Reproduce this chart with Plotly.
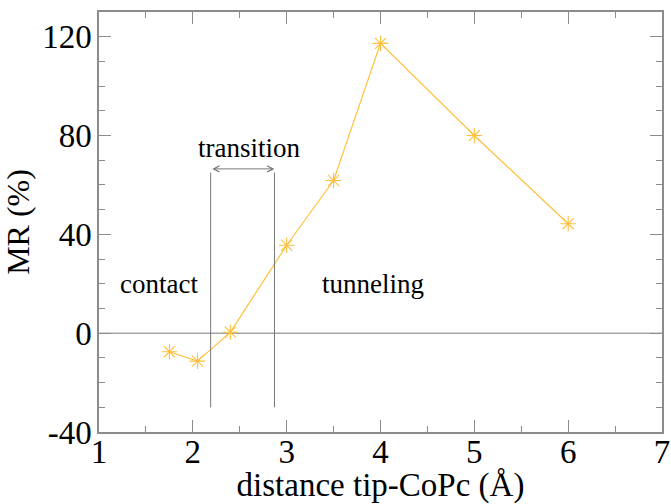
import plotly.graph_objects as go

# tip–CoPc distance (Å) and magnetoresistance (%)
distance = [1.75, 2.05, 2.4, 3.0, 3.5, 4.0, 5.0, 6.0]
mr = [-7.5, -11.3, 0.4, 35.6, 61.8, 117.3, 80.0, 44.3]

# regime boundaries (Å) and labels
boundaries = [2.19, 2.87]
boundary_span = [-30, 65]
regime_labels = ["contact", "transition", "tunneling"]
regime_x = [1.64, 2.6, 3.92]
regime_y = [20.0, 75.0, 20.0]
arrow_y = 66.5

x_ticks = [1, 2, 3, 4, 5, 6, 7]
y_ticks = [-40, 0, 40, 80, 120]

serif = "Liberation Serif"
orange = "#FFC03F"
axis_grey = "#8C8C8C"

fig = go.Figure()

fig.add_trace(go.Scatter(
    x=distance, y=mr, mode="lines+markers",
    line=dict(color=orange, width=1.2),
    marker=dict(symbol="asterisk-open", size=13, color=orange,
                line=dict(color=orange, width=1.1)),
    showlegend=False,
))

# zero reference line
fig.add_shape(type="line", xref="x", yref="y", x0=1, x1=7, y0=0, y1=0,
              line=dict(color="#777777", width=1), layer="below")

# regime boundaries
for b in boundaries:
    fig.add_shape(type="line", xref="x", yref="y", x0=b, x1=b,
                  y0=boundary_span[0], y1=boundary_span[1],
                  line=dict(color="#777777", width=1))

# double-headed arrow spanning the transition region
fig.add_annotation(x=boundaries[1], y=arrow_y, ax=boundaries[0], ay=arrow_y,
                   xref="x", yref="y", axref="x", ayref="y", text="",
                   showarrow=True, arrowside="end+start", arrowhead=5,
                   startarrowhead=5, arrowsize=1.2, startarrowsize=1.2,
                   arrowwidth=1, arrowcolor="#777777")

for label, lx, ly in zip(regime_labels, regime_x, regime_y):
    fig.add_annotation(x=lx, y=ly, xref="x", yref="y", text=label,
                       showarrow=False,
                       font=dict(family=serif, size=27, color="black"))

axis_common = dict(
    showline=True, linecolor=axis_grey, linewidth=1.5, mirror="ticks",
    ticks="inside", ticklen=12, tickwidth=1.2, tickcolor=axis_grey,
    showgrid=False, zeroline=False, automargin=False,
    tickfont=dict(family=serif, size=33, color="black"),
)

fig.update_xaxes(
    range=[1, 7], tickvals=x_ticks, ticktext=[str(v) for v in x_ticks],
    ticklabelstandoff=-10,
    minor=dict(dtick=0.5, ticks="inside", ticklen=6, tickcolor=axis_grey,
               tickwidth=1.2, showgrid=False),
    title=dict(text="distance tip-CoPc (Å)", standoff=0,
               font=dict(family=serif, size=33, color="black")),
    **axis_common,
)
fig.update_yaxes(
    range=[-40, 130], tickvals=y_ticks, ticktext=[str(v) for v in y_ticks],
    ticklabelstandoff=-1,
    minor=dict(dtick=10, tick0=0, ticks="inside", ticklen=6,
               tickcolor=axis_grey, tickwidth=1.2, showgrid=False),
    title=dict(text="MR (%)", standoff=6,
               font=dict(family=serif, size=32, color="black")),
    **axis_common,
)

fig.update_layout(
    width=671, height=504,
    margin=dict(l=99, r=9, t=12, b=72),
    paper_bgcolor="white", plot_bgcolor="white",
)

fig.write_html("out.html")
